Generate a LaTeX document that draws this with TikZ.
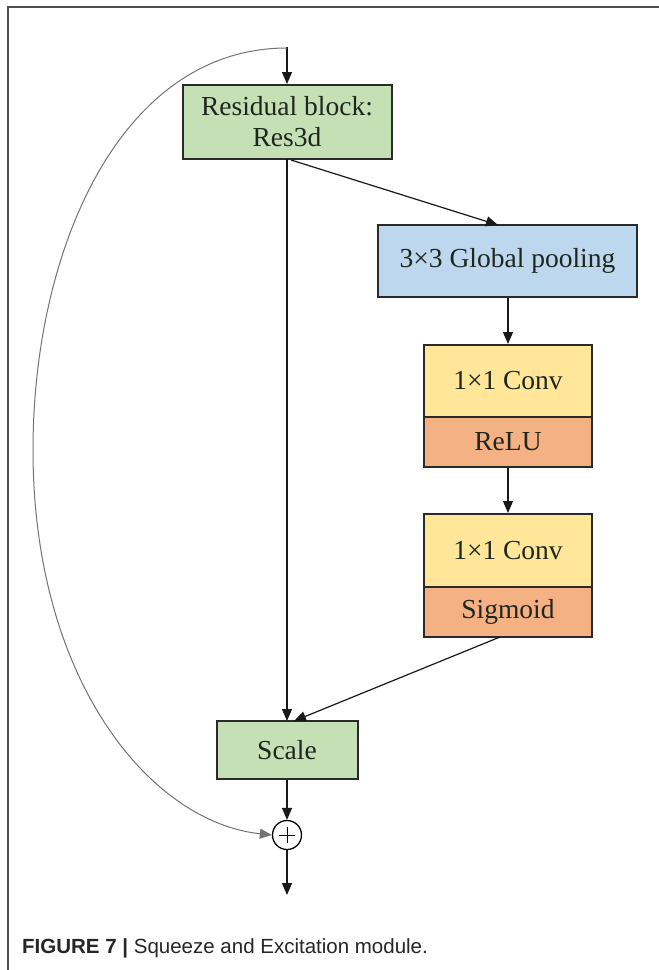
\documentclass[tikz,border=0pt]{standalone}
\usepackage{fontspec}
\setmainfont{Liberation Serif}
\newfontfamily\capfont{Liberation Sans}
\usetikzlibrary{arrows.meta}
\definecolor{boxgreen}{HTML}{C5E0B4}
\definecolor{boxblue}{HTML}{BDD7EE}
\definecolor{boxyellow}{HTML}{FFE699}
\definecolor{boxorange}{HTML}{F4B183}
\definecolor{edgedark}{HTML}{2A2A2A}
\definecolor{txtdark}{HTML}{1E261E}
\definecolor{framegray}{HTML}{505050}
\tikzset{
  blk/.style={draw=edgedark, line width=2pt, rectangle, inner sep=0pt, align=center,
    text=txtdark, font=\fontsize{27.5}{31}\selectfont},
  conn/.style={draw=black!90, line width=1.2pt, -{Triangle[length=12pt,width=10pt]}},
  skip/.style={draw=black!55, line width=1pt, -{Triangle[length=12pt,width=10pt]}},
}
\begin{document}
\begin{tikzpicture}[x=1pt,y=-1pt]
\useasboundingbox (0,0) rectangle (659,970);
\fill[white] (0,0) rectangle (659,970);
% frame
\draw[framegray, line width=1.5pt] (8,970) -- (8,7) -- (659,7);

% nodes
\node[blk, fill=boxgreen, minimum width=209pt, minimum height=74pt] (res) at (287,122) {Residual block:\\Res3d};
\node[blk, fill=boxblue, minimum width=259pt, minimum height=72pt] (pool) at (507.5,261) {3×3 Global pooling};
\node[blk, fill=boxyellow, minimum width=168pt, minimum height=72pt] (conv1) at (508,381) {1×1 Conv};
\node[blk, fill=boxorange, minimum width=168pt, minimum height=50pt] (relu) at (508,442) {ReLU};
\node[blk, fill=boxyellow, minimum width=168pt, minimum height=73pt] (conv2) at (508,550.5) {1×1 Conv};
\node[blk, fill=boxorange, minimum width=168pt, minimum height=50pt] (sig) at (508,612) {Sigmoid};
\node[blk, fill=boxgreen, minimum width=141pt, minimum height=58pt] (scale) at (287,750) {Scale};
\node[circle, draw=black, line width=1.3pt, minimum size=29pt, inner sep=0pt,
  path picture={\draw[black, line width=1pt] ([xshift=-8pt]path picture bounding box.center) -- ([xshift=8pt]path picture bounding box.center);
                \draw[black, line width=1pt] ([yshift=-8pt]path picture bounding box.center) -- ([yshift=8pt]path picture bounding box.center);}]
  (add) at (287,835) {};

% coordinates
\coordinate (in) at (287,47);
\coordinate (out) at (287,895);
\coordinate (resout) at (287,159);
\coordinate (resdiag) at (291,160);
\coordinate (pooltop) at (498,225);
\coordinate (sigbot) at (500,637);
\coordinate (scaletop) at (287,721);
\coordinate (scalediag) at (294,721);

% connectors
\draw[conn] (in) -- (res.north);
\draw[conn] (resout) -- (scaletop);
\draw[conn] (resdiag) -- (pooltop);
\draw[conn] (pool.south -| conv1.north) -- (conv1.north);
\draw[conn] (relu.south) -- (conv2.north);
\draw[conn] (sigbot) -- (scalediag);
\draw[conn] (scale.south) -- (add.north);
\draw[conn] (add.south) -- (out);
\coordinate (skipstart) at (287,48);
\draw[skip] (skipstart) .. controls (120,48) and (33,250) .. (33,450)
   .. controls (33,680) and (150,822) .. (add.west);

% caption
\node[anchor=base west, inner sep=0pt, font=\capfont\fontsize{20.5}{24}\selectfont, text=black!85] (cap) at (22,953)
  {\textbf{FIGURE 7 |} Squeeze and Excitation module.};
\end{tikzpicture}
\end{document}
